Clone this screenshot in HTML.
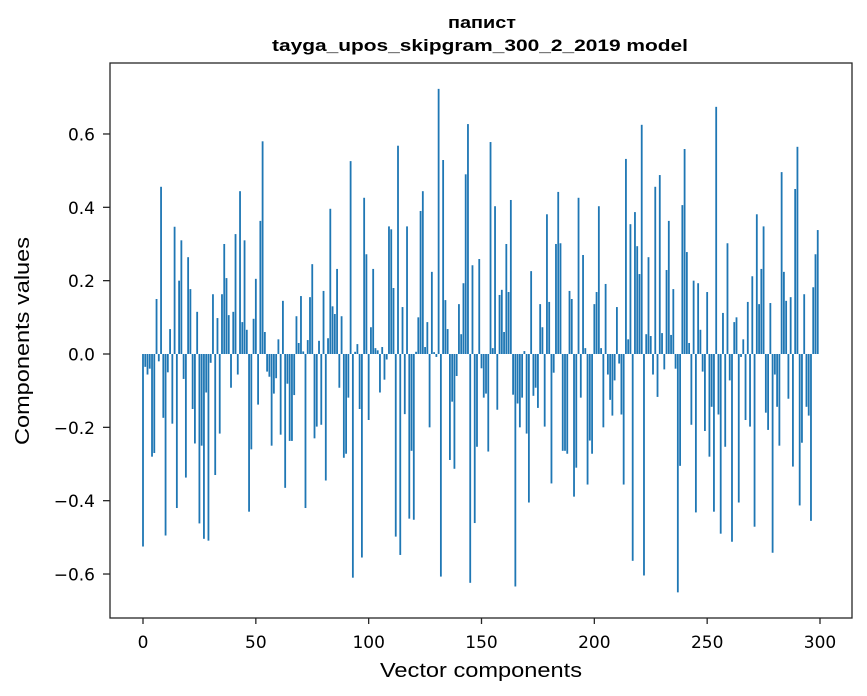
<!DOCTYPE html>
<html><head><meta charset="utf-8"><style>
body{margin:0;background:#fff;}
svg{display:block;font-family:"DejaVu Sans","Liberation Sans",sans-serif;}
</style></head><body>
<svg id="chart" width="867" height="696" viewBox="0 0 867 696" xmlns="http://www.w3.org/2000/svg">
<rect width="867" height="696" fill="#fff"/>
<text x="482" y="28" text-anchor="middle" font-family="Liberation Sans, sans-serif" font-size="17" font-weight="bold" textLength="68" lengthAdjust="spacingAndGlyphs">папист</text>
<text x="480" y="51" text-anchor="middle" font-family="Liberation Sans, sans-serif" font-size="17" font-weight="bold" textLength="416" lengthAdjust="spacingAndGlyphs">tayga_upos_skipgram_300_2_2019 model</text>
<g id="bars"></g>
<g id="xticks"></g>
<g id="yticks"></g>
<rect x="110" y="63" width="742" height="555" fill="none" stroke="#262626" stroke-width="1.3"/>
<text x="481" y="677" text-anchor="middle" font-family="Liberation Sans, sans-serif" font-size="20" textLength="202" lengthAdjust="spacingAndGlyphs">Vector components</text>
<text transform="translate(29,341) rotate(-90)" text-anchor="middle" font-family="Liberation Sans, sans-serif" font-size="20" textLength="208" lengthAdjust="spacingAndGlyphs">Components values</text>
</svg>
<script>
const values = [
-0.525,-0.035,-0.056,-0.04,-0.28,-0.27,0.15,-0.02,0.456,-0.174,
-0.495,-0.05,0.068,-0.19,0.347,-0.42,0.2,0.31,-0.068,-0.337,
0.264,0.177,-0.15,-0.244,0.115,-0.462,-0.25,-0.504,-0.105,-0.509,
-0.024,0.163,-0.33,0.098,-0.217,0.163,0.3,0.207,0.106,-0.092,
0.115,0.327,-0.056,0.444,0.087,0.31,0.066,-0.43,-0.26,0.096,
0.205,-0.138,0.363,0.58,0.06,-0.048,-0.062,-0.25,-0.108,-0.066,
0.04,-0.22,0.145,-0.365,-0.081,-0.237,-0.237,-0.112,0.103,0.03,
0.158,0.007,-0.42,0.038,0.155,0.245,-0.23,-0.198,0.036,-0.193,
0.172,-0.345,0.043,0.396,0.13,0.109,0.232,-0.092,0.103,-0.283,
-0.272,-0.119,0.526,-0.61,0.006,0.027,-0.15,-0.555,0.426,0.272,
-0.18,0.073,0.232,0.016,0.01,-0.105,0.019,-0.07,-0.015,0.348,
0.34,0.18,-0.498,0.568,-0.548,0.128,-0.164,0.348,-0.449,-0.264,
-0.452,0.006,0.1,0.39,0.444,0.019,0.087,-0.2,0.224,0.005,
-0.008,0.723,-0.607,0.529,0.147,0.068,-0.289,-0.13,-0.313,-0.06,
0.136,0.054,0.193,0.49,0.627,-0.624,0.242,-0.461,-0.253,0.259,
-0.039,-0.119,-0.108,-0.266,0.578,0.016,0.403,-0.152,0.161,0.175,
0.06,0.3,0.169,0.42,-0.111,-0.634,-0.135,-0.2,-0.119,0.008,
-0.217,-0.405,0.226,-0.114,-0.092,-0.147,0.136,0.073,-0.198,0.381,
0.142,-0.353,-0.051,0.3,0.442,0.302,-0.264,-0.264,-0.272,0.172,
0.15,-0.389,-0.31,0.426,-0.119,0.27,0.016,-0.356,-0.236,-0.272,
0.136,0.169,0.403,0.016,-0.2,0.191,-0.056,-0.125,-0.168,-0.072,
0.128,-0.026,-0.165,-0.356,0.532,0.04,0.354,-0.564,0.387,0.294,
0.218,0.625,-0.604,0.054,0.264,0.049,-0.056,0.456,-0.117,0.488,
0.057,-0.042,0.229,0.363,0.052,0.177,-0.04,-0.65,-0.305,0.406,
0.559,0.278,0.03,-0.193,0.2,-0.432,0.193,0.066,-0.048,-0.21,
0.169,-0.28,-0.144,-0.43,0.674,-0.165,-0.49,0.112,-0.253,0.302,
-0.072,-0.512,0.087,0.1,-0.405,-0.008,0.04,-0.18,0.142,-0.198,
0.212,-0.471,0.381,0.136,0.232,0.348,-0.16,-0.207,0.139,-0.542,
-0.056,-0.144,-0.25,0.496,0.224,0.145,-0.122,0.155,-0.307,0.45,
0.565,-0.413,-0.242,0.163,-0.144,-0.168,-0.455,0.182,0.272,0.338
];
const xTickValues = [0,50,100,150,200,250,300];
const yTickValues = [-0.6,-0.4,-0.2,0.0,0.2,0.4,0.6];
const yTickLabels = ["\u22120.6","\u22120.4","\u22120.2","0.0","0.2","0.4","0.6"];

const NS = "http://www.w3.org/2000/svg";
function xScale(i){ return 143 + i*(677/300); }
function yScale(v){ return 354 - v*366.7; }
const bw = 0.8*(677/300);
const bars = document.getElementById('bars');
values.forEach((v,i)=>{
  const r = document.createElementNS(NS,'rect');
  
  
  const y0 = yScale(0), y1 = yScale(v);
  r.setAttribute('x', xScale(i)-bw/2);
  r.setAttribute('y', Math.min(y0,y1));
  r.setAttribute('width', bw);
  r.setAttribute('height', Math.max(Math.abs(y1-y0),0.3));
  r.setAttribute('fill', '#1f77b4');
  bars.appendChild(r);
});
const xg = document.getElementById('xticks');
xTickValues.forEach(t=>{
  const x = xScale(t);
  const l = document.createElementNS(NS,'line');
  
  
  l.setAttribute('x1',x);l.setAttribute('x2',x);l.setAttribute('y1',618);l.setAttribute('y2',624);
  l.setAttribute('stroke','#262626');l.setAttribute('stroke-width','1.3');
  xg.appendChild(l);
  const tx = document.createElementNS(NS,'text');
  
  
  tx.setAttribute('x',x);tx.setAttribute('y',648);
  tx.setAttribute('text-anchor','middle');tx.setAttribute('font-size','17');
  tx.textContent = String(t);
  xg.appendChild(tx);
});
const yg = document.getElementById('yticks');
yTickValues.forEach((t,k)=>{
  const y = yScale(t);
  const l = document.createElementNS(NS,'line');
  
  
  l.setAttribute('x1',103);l.setAttribute('x2',110);l.setAttribute('y1',y);l.setAttribute('y2',y);
  l.setAttribute('stroke','#262626');l.setAttribute('stroke-width','1.3');
  yg.appendChild(l);
  const tx = document.createElementNS(NS,'text');
  
  
  tx.setAttribute('x',95);tx.setAttribute('y',y+6.5);
  tx.setAttribute('text-anchor','end');tx.setAttribute('font-size','17');
  tx.textContent = yTickLabels[k];
  yg.appendChild(tx);
});
</script>
</body></html>
